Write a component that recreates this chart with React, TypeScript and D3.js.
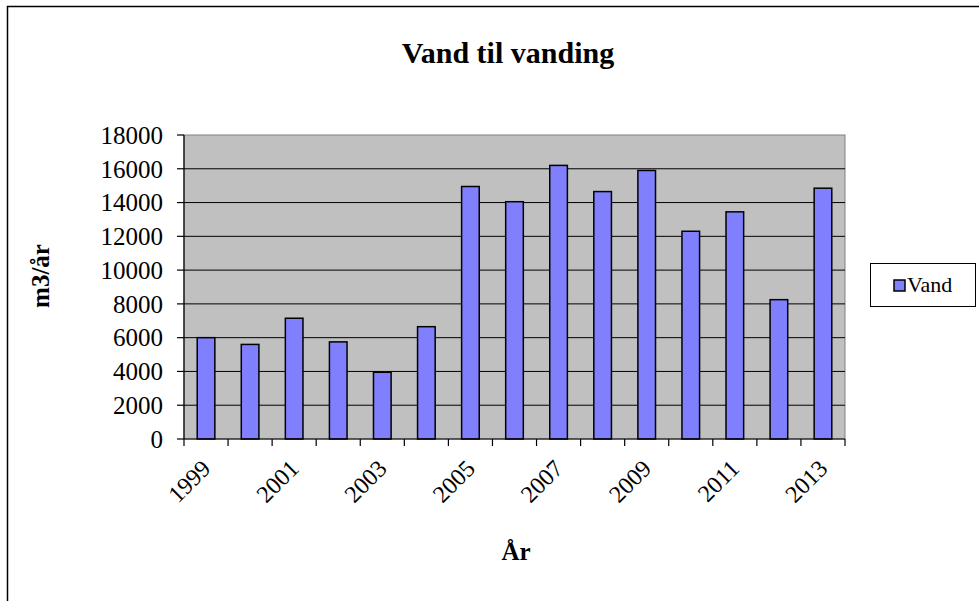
import React from "react";
import * as d3 from "d3";

const years = ["1999","2000","2001","2002","2003","2004","2005","2006","2007","2008","2009","2010","2011","2012","2013"];
const vand = [6000,5600,7150,5750,3950,6650,14950,14050,16200,14650,15900,12300,13450,8250,14850];
const yTicks = [0,2000,4000,6000,8000,10000,12000,14000,16000,18000];
const labelYears = ["1999","2001","2003","2005","2007","2009","2011","2013"];
const title = "Vand til vanding";
const yTitle = "m3/år";
const xTitle = "År";
const seriesName = "Vand";

const W = 979, H = 601;
const plot = { left: 184, right: 845, top: 135, bottom: 439 };
const font = "Liberation Serif, Times New Roman, serif";

export default function App() {
  const x = d3.scaleBand<string>().domain(years).range([plot.left, plot.right]).paddingInner(0.6).paddingOuter(0.3);
  const xc = d3.scaleBand<string>().domain(years).range([plot.left, plot.right]);
  const y = d3.scaleLinear().domain([0, 18000]).range([plot.bottom, plot.top]);
  const boundaries = d3.range(years.length + 1).map(i => plot.left + i * xc.step());

  return (
    <svg width={W} height={H} style={{ position: "absolute", left: 0, top: 0, background: "#fff", fontFamily: font }}>
      <rect x={7.5} y={6.5} width={975} height={600} fill="#fff" stroke="#000" strokeWidth={1.5} />
      <text x={508} y={63} textAnchor="middle" fontSize={30} fontWeight="bold">{title}</text>
      {/* plot background */}
      <rect x={plot.left} y={plot.top} width={plot.right - plot.left} height={plot.bottom - plot.top} fill="#c0c0c0" stroke="#808080" strokeWidth={1} />
      {/* gridlines */}
      {yTicks.filter(t => t > 0 && t < 18000).map(t => (
        <line key={t} x1={plot.left} x2={plot.right} y1={y(t)} y2={y(t)} stroke="#000" strokeWidth={1} />
      ))}
      {/* bars */}
      {years.map((yr, i) => (
        <rect key={yr} x={x(yr)} y={y(vand[i])} width={x.bandwidth()} height={plot.bottom - y(vand[i])} fill="#8080ff" stroke="#000" strokeWidth={1.5} />
      ))}
      {/* axes */}
      <line x1={plot.left} x2={plot.left} y1={plot.top} y2={plot.bottom} stroke="#000" strokeWidth={1.2} />
      <line x1={plot.left} x2={plot.right} y1={plot.bottom} y2={plot.bottom} stroke="#000" strokeWidth={1.2} />
      {yTicks.map(t => (
        <g key={t}>
          <line x1={plot.left - 7} x2={plot.left} y1={y(t)} y2={y(t)} stroke="#000" strokeWidth={1.2} />
          <text x={163} y={y(t)} dy="0.35em" textAnchor="end" fontSize={25}>{t}</text>
        </g>
      ))}
      {boundaries.map((bx, i) => (
        <line key={i} x1={bx} x2={bx} y1={plot.bottom} y2={plot.bottom + 7} stroke="#000" strokeWidth={1.2} />
      ))}
      {labelYears.map(yr => {
        const cx = (xc(yr) as number) + xc.bandwidth() / 2 + 6;
        const cy = plot.bottom + 31;
        return (
          <text key={yr} x={cx} y={cy} textAnchor="end" fontSize={24} transform={`rotate(-45 ${cx} ${cy})`}>{yr}</text>
        );
      })}
      <text x={516} y={560} textAnchor="middle" fontSize={25} fontWeight="bold">{xTitle}</text>
      <text transform={`translate(49 276) rotate(-90)`} textAnchor="middle" fontSize={25} fontWeight="bold">{yTitle}</text>
      {/* legend */}
      <rect x={870.5} y={263.5} width={105} height={43} fill="#fff" stroke="#000" strokeWidth={1} />
      <rect x={894} y={280} width={11} height={11} fill="#8080ff" stroke="#000" strokeWidth={1.5} />
      <text x={907} y={292} fontSize={22}>{seriesName}</text>
    </svg>
  );
}
